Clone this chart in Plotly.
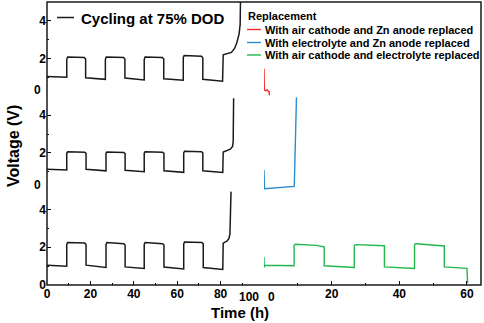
import plotly.graph_objects as go

# ---------------- data ----------------
# Black: cycling at 75% DOD (time in h, voltage in V), three repeats
t_top = [0, 9.1, 9.1, 9.5, 17.2, 17.8, 17.8, 26.9, 26.9, 27.3, 35.3, 35.9, 35.9,
         44.8, 44.8, 45.2, 53.2, 53.8, 53.8, 62.8, 62.8, 63.2, 71.2, 71.8, 71.8,
         80.9, 81.2, 83.0, 85.0, 86.5, 87.5, 88.5, 89.0, 89.2]
v_top = [1.05, 1.01, 1.95, 2.08, 2.06, 1.98, 0.98, 0.90, 1.95, 2.08, 2.06, 1.98, 0.97,
         0.87, 1.95, 2.08, 2.06, 1.98, 0.93, 0.85, 2.05, 2.16, 2.12, 2.04, 0.90,
         0.80, 2.20, 2.25, 2.33, 2.55, 2.85, 3.3, 3.8, 5.3]

t_mid = [0, 9.1, 9.1, 9.5, 17.4, 18.0, 18.0, 27.2, 27.2, 27.6, 35.4, 36.0, 36.0,
         44.8, 44.8, 45.2, 53.3, 53.9, 53.9, 63.0, 63.0, 63.4, 71.2, 71.8, 71.8,
         81.0, 81.2, 83.0, 84.5, 85.5, 85.8, 86.0]
v_mid = [1.14, 1.10, 1.98, 2.06, 2.04, 1.98, 1.13, 1.05, 1.98, 2.05, 2.02, 1.96, 1.08,
         1.00, 1.98, 2.06, 2.04, 1.98, 1.05, 0.97, 2.00, 2.09, 2.06, 2.00, 1.05,
         0.96, 2.05, 2.12, 2.20, 2.35, 2.60, 4.90]

t_bot = [0, 9.1, 9.1, 9.5, 17.4, 18.0, 18.0, 27.2, 27.2, 27.6, 35.4, 36.0, 36.0,
         44.8, 44.8, 45.2, 53.3, 53.9, 53.9, 63.0, 63.0, 63.4, 71.4, 72.0, 72.0,
         81.0, 81.2, 83.0, 83.8, 84.3, 84.8]
v_bot = [1.05, 1.00, 2.15, 2.25, 2.23, 2.15, 1.05, 0.93, 2.15, 2.25, 2.19, 2.12, 0.96,
         0.88, 2.15, 2.25, 2.19, 2.12, 0.95, 0.85, 2.18, 2.28, 2.25, 2.18, 0.93,
         0.82, 2.22, 2.33, 2.45, 2.70, 4.95]

# Replacement experiments
t_red = [0, 0.05, 0.1, 0.5, 1.0, 1.3, 1.5, 1.6]
v_red = [1.46, 0.90, 0.33, 0.30, 0.34, 0.25, 0.25, 0.05]

t_blue = [0, 0.05, 0.15, 8.95, 9.6]
v_blue = [1.10, 0.50, 0.10, 0.23, 4.95]

t_green = [0, 0.05, 0.2, 8.9, 8.9, 9.3, 15.4, 17.8, 17.8, 26.7, 26.7, 27.1, 35.6,
           35.6, 44.5, 44.5, 44.9, 53.3, 53.3, 60.0, 60.2]
v_green = [1.49, 0.93, 1.05, 1.02, 2.10, 2.16, 2.10, 2.02, 1.02, 0.93, 2.10, 2.14, 2.08,
           0.96, 0.88, 2.15, 2.19, 2.07, 0.96, 0.88, 0.10]

black_name = "Cycling at 75% DOD"
legend_title = "Replacement"
names = ["With air cathode and Zn anode replaced",
         "With electrolyte and Zn anode replaced",
         "With air cathode and electrolyte replaced"]
colors = ["#F52A2A", "#2B8DCC", "#22B84E"]

x_left_ticks = [0, 20, 40, 60, 80, 100]
x_right_ticks = [0, 20, 40, 60]
y_ticks = [0, 2, 4]

# ---------------- figure ----------------
W, H = 484, 323
ML, MR, MT, MB = 47, 3, 2, 38
PW, PH = W - ML - MR, H - MT - MB


def px(x):
    return (x - ML) / PW


def py(y):
    return (H - MB - y) / PH


FONT = "Liberation Sans, Arial, sans-serif"
fig = go.Figure()

for t, v, ya in [(t_top, v_top, "y3"), (t_mid, v_mid, "y2"), (t_bot, v_bot, "y")]:
    fig.add_trace(go.Scatter(x=t, y=v, xaxis="x", yaxis=ya, mode="lines",
                             line=dict(color="#1a1a1a", width=1.5),
                             name=black_name, showlegend=False))

for t, v, ya, c, n in [(t_red, v_red, "y3", colors[0], names[0]),
                       (t_blue, v_blue, "y2", colors[1], names[1]),
                       (t_green, v_green, "y", colors[2], names[2])]:
    fig.add_trace(go.Scatter(x=t, y=v, xaxis="x2", yaxis=ya, mode="lines",
                             line=dict(color=c, width=1.4), name=n, showlegend=False))

tickfont = dict(family=FONT, size=12, color="black", weight="bold")
xcommon = dict(ticks="inside", ticklen=4, tickwidth=1.2, tickcolor="black",
               showgrid=False, zeroline=False, showline=False, tickfont=tickfont,
               minor=dict(ticks="inside", ticklen=2, dtick=10, tickcolor="black", showgrid=False),
               anchor="y")
ycommon = dict(ticks="inside", ticklen=4, tickwidth=1.2, tickcolor="black",
               showgrid=False, zeroline=False, showline=False, tickfont=tickfont,
               range=[0, 5], tickvals=y_ticks,
               minor=dict(ticks="inside", ticklen=2, dtick=1, tickcolor="black", showgrid=False),
               anchor="x")

fig.update_layout(
    width=W, height=H,
    margin=dict(l=ML, r=MR, t=MT, b=MB),
    paper_bgcolor="white", plot_bgcolor="white",
    showlegend=False,
    xaxis=dict(domain=[0, 0.5], range=[0, 100], tickvals=x_left_ticks,
               ticktext=[str(v) if v != 100 else "" for v in x_left_ticks], **xcommon),
    xaxis2=dict(domain=[0.5, 1], range=[0, 64.15], tickvals=x_right_ticks,
                ticktext=[str(v) if v != 0 else "" for v in x_right_ticks], **xcommon),
    yaxis=dict(domain=[0, 1 / 3], ticktext=[str(v) for v in y_ticks], **ycommon),
    yaxis2=dict(domain=[1 / 3, 2 / 3], ticktext=[str(v) if v != 0 else "" for v in y_ticks], **ycommon),
    yaxis3=dict(domain=[2 / 3, 1], ticktext=[str(v) if v != 0 else "" for v in y_ticks], **ycommon),
)

shapes = [dict(type="rect", xref="paper", yref="paper", x0=0, x1=1, y0=0, y1=1,
               line=dict(color="#1a1a1a", width=1.5), layer="above")]
ann = []

# split tick labels at the axis break (left axis ends at 100, right axis starts at 0)
ann.append(dict(x=0.5, xref="paper", y=0, yref="paper", text=str(x_left_ticks[-1]),
                showarrow=False, xanchor="right", yanchor="top", xshift=-3, yshift=-3,
                font=tickfont))
ann.append(dict(x=0.5, xref="paper", y=0, yref="paper", text=str(x_right_ticks[0]),
                showarrow=False, xanchor="left", yanchor="top", xshift=2, yshift=-3,
                font=tickfont))
for ya in ["y2", "y3"]:
    ann.append(dict(x=0, xref="paper", y=0, yref=ya, text="0", showarrow=False,
                    xanchor="right", yanchor="middle", xshift=-4, yshift=6, font=tickfont))

# axis titles
ann.append(dict(x=px(13), y=py(146), xref="paper", yref="paper", text="Voltage (V)",
                textangle=-90, showarrow=False, xanchor="center", yanchor="middle",
                font=dict(family=FONT, size=16, color="black", weight="bold")))
ann.append(dict(x=px(240), y=py(312), xref="paper", yref="paper", text="Time (h)",
                showarrow=False, xanchor="center", yanchor="middle",
                font=dict(family=FONT, size=15, color="black", weight="bold")))

# legend: black
shapes.append(dict(type="line", xref="paper", yref="paper", x0=px(57), x1=px(74),
                   y0=py(17.5), y1=py(17.5), line=dict(color="#1a1a1a", width=1.5)))
ann.append(dict(x=px(79), y=py(18.5), xref="paper", yref="paper", text=black_name,
                showarrow=False, xanchor="left", yanchor="middle",
                font=dict(family=FONT, size=15, color="black", weight="bold")))

# legend: replacement
ann.append(dict(x=px(246), y=py(16), xref="paper", yref="paper", text=legend_title,
                showarrow=False, xanchor="left", yanchor="middle",
                font=dict(family=FONT, size=11, color="black", weight="bold")))
for i, (n, c) in enumerate(zip(names, colors)):
    yy = [29.5, 42.5, 55.0][i]
    shapes.append(dict(type="line", xref="paper", yref="paper", x0=px(247), x1=px(261),
                       y0=py(yy), y1=py(yy), line=dict(color=c, width=1.4)))
    ann.append(dict(x=px(263), y=py(yy), xref="paper", yref="paper", text=n,
                    showarrow=False, xanchor="left", yanchor="middle",
                    font=dict(family=FONT, size=11, color="black", weight="bold")))

fig.update_layout(shapes=shapes, annotations=ann)
fig.write_html("out.html", config={"displayModeBar": False},
               post_script="document.body.style.margin='0';document.body.style.padding='0';")
